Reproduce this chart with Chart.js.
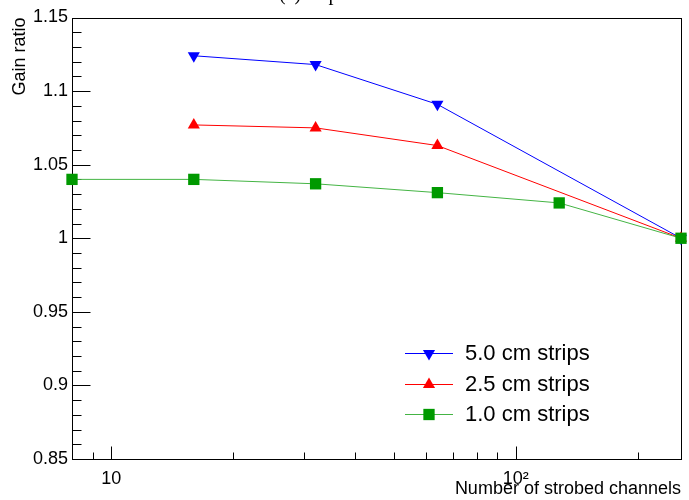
<!DOCTYPE html>
<html>
<head>
<meta charset="utf-8">
<script src="https://cdn.jsdelivr.net/npm/chart.js@4.4.1/dist/chart.umd.min.js"></script>
<style>
    html, body { margin: 0; padding: 0; background: #fff; }
</style>
</head>
<body>
<canvas id="gain-chart" width="689" height="500"></canvas>
<script>
// data
let channels = [8, 16, 32, 64, 128, 256];
let gain50 = [null, 1.124, 1.118, 1.091, null, 1.0];
let gain25 = [null, 1.077, 1.075, 1.063, null, 1.0];
let gain10 = [1.040, 1.040, 1.037, 1.031, 1.024, 1.0];
let seriesLabels = ["5.0 cm strips", "2.5 cm strips", "1.0 cm strips"];
let xMajorTicks = [10, 100];
let xMinorTicks = [9, 20, 30, 40, 50, 60, 70, 80, 90, 200];
let yMin = 0.85;
let yMax = 1.15;
let plotTitle = "(c) Impact of strobed channels";

const font = "'Liberation Sans', Arial, sans-serif";

function toPoints(values) {
    return channels
        .map(function (c, i) { return { x: c, y: values[i] }; })
        .filter(function (p) { return p.y !== null; });
}

// ROOT style frame with inward ticks, drawn under the markers
const rootAxes = {
    id: "rootAxes",
    beforeDatasetsDraw(chart) {
        const ctx = chart.ctx;
        const a = chart.chartArea;
        const x = chart.scales.x;
        const y = chart.scales.y;
        const left = Math.round(a.left) + 0.5;
        const bottom = Math.round(a.bottom) + 0.5;
        ctx.save();
        ctx.strokeStyle = "#000";
        ctx.lineWidth = 1;
        ctx.strokeRect(left, Math.round(a.top) + 0.5, Math.round(a.right) - Math.round(a.left), Math.round(a.bottom) - Math.round(a.top));
        ctx.beginPath();
        for (let i = Math.round(yMin * 100); i <= Math.round(yMax * 100); i++) {
            let py = Math.round(y.getPixelForValue(i / 100)) + 0.5;
            let len = i % 5 === 0 ? 18 : 9;
            ctx.moveTo(left, py);
            ctx.lineTo(left + len, py);
        }
        xMajorTicks.forEach(function (v) {
            let px = Math.round(x.getPixelForValue(v)) + 0.5;
            ctx.moveTo(px, bottom);
            ctx.lineTo(px, bottom - 13);
        });
        xMinorTicks.forEach(function (v) {
            let px = Math.round(x.getPixelForValue(v)) + 0.5;
            ctx.moveTo(px, bottom);
            ctx.lineTo(px, bottom - 7);
        });
        ctx.stroke();

        // title, mostly cut off by the top edge
        ctx.fillStyle = "#000";
        ctx.font = "20px 'Liberation Serif', 'Times New Roman', serif";
        ctx.textAlign = "left";
        ctx.textBaseline = "alphabetic";
        ctx.fillText(plotTitle, 279, -0.5);
        ctx.restore();
    },
};

// ROOT style legend: line with the marker in its middle
const rootLegend = {
    id: "rootLegend",
    afterDraw(chart) {
        const ctx = chart.ctx;
        const rows = [353, 384, 414];
        ctx.save();
        chart.data.datasets.forEach(function (ds) {
            let ry = rows[ds.legendRow];
            ctx.strokeStyle = ds.borderColor;
            ctx.lineWidth = 1;
            ctx.beginPath();
            ctx.moveTo(405, ry + 0.5);
            ctx.lineTo(453, ry + 0.5);
            ctx.stroke();
            ctx.fillStyle = ds.pointBackgroundColor;
            Chart.helpers.drawPoint(ctx, {
                pointStyle: ds.pointStyle,
                rotation: ds.pointRotation,
                radius: ds.pointRadius,
                borderWidth: 0,
            }, 429, ry + 0.5);
            ctx.fillStyle = "#000";
            ctx.font = "22px " + font;
            ctx.textAlign = "left";
            ctx.textBaseline = "middle";
            ctx.fillText(ds.label, 465, ry + 1);
        });
        ctx.restore();
    },
};

let canvas = document.getElementById("gain-chart");
window.chartGain = new Chart(canvas, {
    type: "scatter",
    data: {
        datasets: [
            {
                label: seriesLabels[2],
                data: toPoints(gain10),
                showLine: true,
                borderColor: "#44b444",
                backgroundColor: "#009900",
                pointBackgroundColor: "#009900",
                pointStyle: "rect",
                pointRotation: 0,
                pointRadius: 8,
                pointBorderWidth: 0,
                borderWidth: 1,
                clip: false,
                order: 0,
                legendRow: 2,
            },
            {
                label: seriesLabels[1],
                data: toPoints(gain25),
                showLine: true,
                borderColor: "#ff0000",
                backgroundColor: "#ff0000",
                pointBackgroundColor: "#ff0000",
                pointStyle: "triangle",
                pointRotation: 0,
                pointRadius: 7,
                pointBorderWidth: 0,
                borderWidth: 1,
                clip: false,
                order: 1,
                legendRow: 1,
            },
            {
                label: seriesLabels[0],
                data: toPoints(gain50),
                showLine: true,
                borderColor: "#0000ff",
                backgroundColor: "#0000ff",
                pointBackgroundColor: "#0000ff",
                pointStyle: "triangle",
                pointRotation: 180,
                pointRadius: 7,
                pointBorderWidth: 0,
                borderWidth: 1,
                clip: false,
                order: 2,
                legendRow: 0,
            },
        ],
    },
    options: {
        responsive: false,
        animation: false,
        layout: { padding: { left: 9, top: 17.5, right: 3, bottom: 0 } },
        plugins: {
            legend: { display: false },
            tooltip: { enabled: false },
        },
        scales: {
            x: {
                type: "logarithmic",
                min: 8,
                max: 256,
                grid: { display: false, drawTicks: false },
                border: { display: false },
                afterBuildTicks: function (scale) {
                    scale.ticks = xMinorTicks.concat(xMajorTicks)
                        .sort(function (a, b) { return a - b; })
                        .map(function (v) { return { value: v }; });
                },
                afterFit: function (scale) {
                    scale.height = 41;
                    scale.paddingLeft = 0;
                    scale.paddingRight = 0;
                },
                ticks: {
                    autoSkip: false,
                    maxRotation: 0,
                    padding: 9,
                    color: "#000",
                    font: { family: font, size: 18 },
                    callback: function (v) {
                        if (v === 10) return "10";
                        if (v === 100) return "10\u00b2";
                        return "";
                    },
                },
                title: {
                    display: true,
                    text: "Number of strobed channels",
                    align: "end",
                    color: "#000",
                    padding: 0,
                    font: { family: font, size: 18 },
                },
            },
            y: {
                min: yMin,
                max: yMax,
                grid: { display: false, drawTicks: false },
                border: { display: false },
                afterFit: function (scale) {
                    scale.width = 63;
                },
                ticks: {
                    stepSize: 0.05,
                    padding: 4,
                    color: "#000",
                    font: { family: font, size: 18 },
                    callback: function (v) {
                        return String(parseFloat(v.toFixed(2)));
                    },
                },
                title: {
                    display: true,
                    text: "Gain ratio",
                    align: "end",
                    color: "#000",
                    padding: 0,
                    font: { family: font, size: 18 },
                },
            },
        },
    },
    plugins: [rootAxes, rootLegend],
});
</script>
</body>
</html>
